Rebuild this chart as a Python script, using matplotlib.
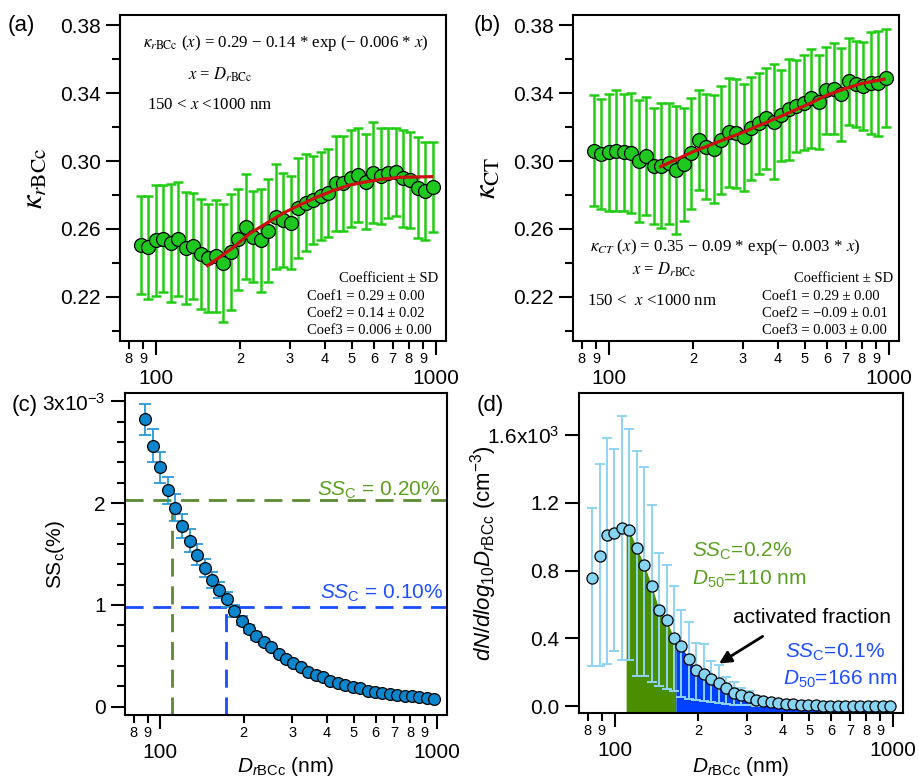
import matplotlib
matplotlib.use('Agg')
import matplotlib.pyplot as plt
from matplotlib.ticker import FixedLocator, FixedFormatter, NullLocator
import numpy as np

plt.rcParams['font.family'] = ['Liberation Sans', 'DejaVu Sans']
plt.rcParams['mathtext.fontset'] = 'custom'
plt.rcParams['mathtext.rm'] = 'Liberation Sans'
plt.rcParams['mathtext.it'] = 'Liberation Sans:italic'
plt.rcParams['mathtext.bf'] = 'Liberation Sans:bold'

# diametros (nm) - centro dos bins
D = [83.0, 88.3, 93.9, 99.8, 106.2, 112.9, 120.1, 127.7, 135.8, 144.5, 153.6,
     163.4, 173.8, 184.8, 196.6, 209.1, 222.3, 236.5, 251.5, 267.5, 284.5,
     302.5, 321.7, 342.2, 363.9, 387.1, 411.6, 437.8, 465.6, 495.2, 526.6,
     560.1, 595.7, 633.5, 673.8, 716.6, 762.1, 810.5, 862.0, 916.7, 974.9]
Dk = D[1:]

# (a) kappa rBCc
kappa_rbcc = [0.2506, 0.2492, 0.2532, 0.2543, 0.2516, 0.2539, 0.2486, 0.2500,
              0.2453, 0.2428, 0.2441, 0.2398, 0.2463, 0.2539, 0.2614, 0.2555,
              0.2532, 0.2590, 0.2673, 0.2653, 0.2637, 0.2722, 0.2755, 0.2771,
              0.2794, 0.2810, 0.2869, 0.2869, 0.2898, 0.2918, 0.2878, 0.2931,
              0.2912, 0.2927, 0.2937, 0.2898, 0.2888, 0.2843, 0.2824, 0.2845]
kappa_rbcc_sd = [0.0287, 0.0304, 0.0326, 0.0314, 0.0348, 0.0335, 0.0331, 0.0314,
                 0.0323, 0.0319, 0.0330, 0.0348, 0.0340, 0.0296, 0.0311, 0.0267,
                 0.0306, 0.0304, 0.0307, 0.0279, 0.0274, 0.0294, 0.0285, 0.0258,
                 0.0260, 0.0260, 0.0279, 0.0279, 0.0287, 0.0278, 0.0281, 0.0297,
                 0.0284, 0.0265, 0.0260, 0.0286, 0.0281, 0.0299, 0.0289, 0.0265]
fit_rbcc_x = [153, 188, 216, 248, 284, 326, 374, 429, 492, 565, 648, 743, 964]
fit_rbcc_y = [0.2384, 0.2488, 0.2572, 0.2633, 0.2692, 0.2741, 0.2786, 0.2826,
              0.2859, 0.2878, 0.2894, 0.2904, 0.2908]

# (b) kappa CT
kappa_ct = [0.3061, 0.3041, 0.3051, 0.3061, 0.3051, 0.3045, 0.3002, 0.3029,
            0.2971, 0.2973, 0.2986, 0.2947, 0.2982, 0.3045, 0.3123, 0.3084,
            0.3071, 0.3123, 0.3169, 0.3163, 0.3139, 0.3192, 0.3221, 0.3251,
            0.3231, 0.3270, 0.3304, 0.3323, 0.3343, 0.3369, 0.3349, 0.3417,
            0.3427, 0.3394, 0.3470, 0.3453, 0.3441, 0.3461, 0.3457, 0.3490]
kappa_ct_sd = [0.0328, 0.0325, 0.0343, 0.0358, 0.0345, 0.0353, 0.0360, 0.0349,
               0.0340, 0.0366, 0.0355, 0.0377, 0.0333, 0.0325, 0.0294, 0.0310,
               0.0319, 0.0316, 0.0320, 0.0319, 0.0314, 0.0302, 0.0299, 0.0297,
               0.0338, 0.0268, 0.0296, 0.0270, 0.0279, 0.0291, 0.0276, 0.0255,
               0.0268, 0.0274, 0.0255, 0.0255, 0.0260, 0.0299, 0.0309, 0.0287]
fit_ct_x = [153, 200, 250, 300, 400, 500, 600, 700, 800, 960]
fit_ct_y = [0.2967, 0.3055, 0.3118, 0.3168, 0.3255, 0.3325, 0.3388, 0.3427,
            0.3457, 0.3482]

# (c) SSc (x10^-3)
ssc = [2.826, 2.564, 2.354, 2.125, 1.957, 1.777, 1.633, 1.492, 1.361, 1.246,
       1.148, 1.056, 0.944, 0.846, 0.761, 0.695, 0.639, 0.584, 0.518, 0.466,
       0.426, 0.387, 0.344, 0.311, 0.289, 0.256, 0.236, 0.213, 0.197, 0.180,
       0.157, 0.148, 0.138, 0.125, 0.115, 0.105, 0.105, 0.092, 0.082, 0.072]
ssc_sd = [0.152, 0.164, 0.152, 0.131, 0.131, 0.118, 0.115, 0.103, 0.087, 0.080,
          0.077, 0.072, 0.059, 0.046, 0.040, 0.035, 0.030, 0.027, 0.024, 0.021,
          0.019, 0.017, 0.015, 0.013, 0.012, 0.011, 0.010, 0.009, 0.008, 0.008,
          0.007, 0.007, 0.006, 0.006, 0.005, 0.005, 0.005, 0.004, 0.004, 0.004]
ss_levels = [2.03, 0.975]       # SSc = 0.20 %, 0.10 %
ss_d50_c = [110, 172]

# (d) dN/dlogD (x10^3 cm-3)
dndlogd = [0.756, 0.883, 1.007, 1.021, 1.050, 1.037, 0.932, 0.834, 0.711, 0.569,
           0.506, 0.402, 0.353, 0.279, 0.212, 0.190, 0.161, 0.137, 0.108, 0.079,
           0.069, 0.055, 0.039, 0.029, 0.024, 0.020, 0.016, 0.012, 0.010, 0.008,
           0.006, 0.004, 0.003, 0.003, 0.002, 0.002, 0.002, 0.001, 0.001, 0.001,
           0.001]
dn_err_hi = [0.412, 0.547, 0.575, 0.497, 0.662, 0.596, 0.575, 0.578, 0.477, 0.335,
             0.324, 0.310, 0.215, 0.217, 0.160, 0.179, 0.105, 0.107, 0.065, 0.062,
             0.039, 0.033, 0.024, 0.020, 0.016, 0.013, 0.010, 0.008, 0.006, 0.005,
             0.004, 0.003, 0.002, 0.002, 0.002, 0.001, 0.001, 0.001, 0.001, 0.001,
             0.001]
dn_err_lo = [0.520, 0.643, 0.756, 0.697, 0.775, 0.764, 0.751, 0.653, 0.569, 0.450,
             0.402, 0.314, 0.298, 0.236, 0.177, 0.161, 0.137, 0.117, 0.092, 0.069,
             0.061, 0.049, 0.035, 0.025, 0.020, 0.016, 0.013, 0.010, 0.008, 0.006,
             0.005, 0.003, 0.002, 0.002, 0.002, 0.001, 0.001, 0.001, 0.001, 0.001,
             0.001]
d50 = [110, 166]

W, H = 919, 781
fig = plt.figure(figsize=(W / 100, H / 100), dpi=100)


def box(l, t, r, b):
    return [l / W, 1 - b / H, (r - l) / W, (b - t) / H]


ax_a = fig.add_axes(box(120, 15, 446, 341))
ax_b = fig.add_axes(box(573, 15, 899, 341))
ax_c = fig.add_axes(box(125, 393, 447, 715))
ax_d = fig.add_axes(box(579, 393, 903, 713))

minor_x = [80, 90, 200, 300, 400, 500, 600, 700, 800, 900]
minor_lab = ['8', '9', '2', '3', '4', '5', '6', '7', '8', '9']


def estilo(ax):
    ax.set_xscale('log')
    ax.set_xlim(74.5, 1085)
    ax.xaxis.set_major_locator(FixedLocator([100, 1000]))
    ax.xaxis.set_major_formatter(FixedFormatter(['100', '1000']))
    ax.xaxis.set_minor_locator(FixedLocator(minor_x))
    ax.xaxis.set_minor_formatter(FixedFormatter(minor_lab))
    for s in ax.spines.values():
        s.set_linewidth(1.5)
    ax.tick_params(axis='both', which='major', direction='out', length=10,
                   width=1.5, labelsize=15)
    ax.tick_params(axis='y', which='major', pad=4)
    ax.tick_params(axis='x', which='major', pad=10)
    ax.tick_params(axis='both', which='minor', direction='out', length=6,
                   width=1.5)
    ax.tick_params(axis='x', which='minor', labelsize=10.5, pad=2)


serif = dict(fontfamily='Liberation Serif', math_fontfamily='stix')

# ---- (a)
ax = ax_a
estilo(ax)
ax.errorbar(Dk, kappa_rbcc, yerr=kappa_rbcc_sd, fmt='none', ecolor='#22cc14',
            elinewidth=1.8, capsize=3.8, capthick=1.8, zorder=1)
ax.plot(Dk, kappa_rbcc, 'o', ms=10, mfc='#1ec81e', mec='black', mew=0.9, zorder=2)
ax.plot(fit_rbcc_x, fit_rbcc_y, color='#cc1010', lw=2.3, zorder=3)
ax.set_ylim(0.194, 0.386)
ax.yaxis.set_major_locator(FixedLocator([0.22, 0.26, 0.30, 0.34, 0.38]))
ax.yaxis.set_minor_locator(FixedLocator([0.20, 0.24, 0.28, 0.32, 0.36]))
ax.set_yticklabels(['0.22', '0.26', '0.30', '0.34', '0.38'])
ax.set_ylabel(r'$\kappa_{r\mathrm{BCc}}$', fontsize=22, math_fontfamily='stix')
ax.yaxis.set_label_coords(-0.215, 0.5)
ax.text(0.07, 0.914, r'$\kappa_{r\mathrm{BCc}}$ ($x$) = 0.29 − 0.14 * exp (− 0.006 * $x$)',
        transform=ax.transAxes, fontsize=12.2, va='center', **serif)
ax.text(0.209, 0.816, r'$x$ = $D_{r\mathrm{BCc}}$', transform=ax.transAxes,
        fontsize=12, va='center', **serif)
ax.text(0.083, 0.724, r'150 < $x$ <1000 nm', transform=ax.transAxes,
        fontsize=12.2, va='center', **serif)
ax.text(0.975, 0.193, 'Coefficient ± SD', transform=ax.transAxes, ha='right',
        fontsize=10.5, va='center', **serif)
for i, s in enumerate(['Coef1 = 0.29 ± 0.00', 'Coef2 = 0.14 ± 0.02',
                       'Coef3 = 0.006 ± 0.00']):
    ax.text(0.574, 0.138 - i * 0.053, s, transform=ax.transAxes, fontsize=10.5,
            va='center', **serif)

# ---- (b)
ax = ax_b
estilo(ax)
ax.errorbar(Dk, kappa_ct, yerr=kappa_ct_sd, fmt='none', ecolor='#22cc14',
            elinewidth=1.8, capsize=3.8, capthick=1.8, zorder=1)
ax.plot(Dk, kappa_ct, 'o', ms=10, mfc='#1ec81e', mec='black', mew=0.9, zorder=2)
ax.plot(fit_ct_x, fit_ct_y, color='#cc1010', lw=2.3, zorder=3)
ax.set_ylim(0.194, 0.386)
ax.yaxis.set_major_locator(FixedLocator([0.22, 0.26, 0.30, 0.34, 0.38]))
ax.yaxis.set_minor_locator(FixedLocator([0.20, 0.24, 0.28, 0.32, 0.36]))
ax.set_yticklabels(['0.22', '0.26', '0.30', '0.34', '0.38'])
ax.set_ylabel(r'$\kappa_{\mathrm{CT}}$', fontsize=22, math_fontfamily='stix')
ax.yaxis.set_label_coords(-0.215, 0.5)
ax.text(0.052, 0.288, r'$\kappa_{CT}$ ($x$) = 0.35 − 0.09 * exp(− 0.003 * $x$)',
        transform=ax.transAxes, fontsize=12.2, va='center', **serif)
ax.text(0.181, 0.218, r'$x$ = $D_{r\mathrm{BCc}}$', transform=ax.transAxes,
        fontsize=12, va='center', **serif)
ax.text(0.043, 0.123, r'150 <  $x$ <1000 nm', transform=ax.transAxes,
        fontsize=12.2, va='center', **serif)
ax.text(0.982, 0.193, 'Coefficient ± SD', transform=ax.transAxes, ha='right',
        fontsize=10.5, va='center', **serif)
for i, s in enumerate(['Coef1 = 0.29 ± 0.00', 'Coef2 = −0.09 ± 0.01',
                       'Coef3 = 0.003 ± 0.00']):
    ax.text(0.580, 0.138 - i * 0.053, s, transform=ax.transAxes, fontsize=10.5,
            va='center', **serif)

# ---- (c)
ax = ax_c
estilo(ax)
ax.set_ylim(-0.082, 3.083)
cores_ss = ['#5b8a32', '#1a4cff']
for nivel, dx, cor in zip(ss_levels, ss_d50_c, cores_ss):
    ax.axhline(nivel, color=cor, lw=2, dashes=(6.5, 3.5), zorder=1)
    ax.plot([dx, dx], [-0.082, nivel], color=cor, lw=2, dashes=(6.5, 3.5), zorder=1)
ax.errorbar(Dk, ssc, yerr=ssc_sd, fmt='none', ecolor='#2a9ad8', elinewidth=1.3,
            capsize=4.3, capthick=1.3, zorder=2)
ax.plot(Dk, ssc, 'o', ms=8.5, mfc='#0b85cc', mec='black', mew=0.9, zorder=3)
ax.yaxis.set_major_locator(FixedLocator([0, 1, 2, 3]))
ax.yaxis.set_major_formatter(FixedFormatter(['0', '1', '2', r'3x10$^{\mathregular{-3}}$']))
ax.yaxis.set_minor_locator(FixedLocator([v / 5 for v in range(1, 15) if v % 5]))
ax.set_ylabel(r'SS$_{\mathrm{c}}$(%)', fontsize=15)
ax.yaxis.set_label_coords(-0.18, 0.5)
ax.set_xlabel(r'$D_{r\mathrm{BCc}}$ (nm)', fontsize=15)
ax.xaxis.set_label_coords(0.5, -0.125)
ax.text(0.978, 0.680, r'$SS_{\mathrm{C}}$ = 0.20%', transform=ax.transAxes,
        ha='right', color='#5aa01e', fontsize=15)
ax.text(0.988, 0.362, r'$SS_{\mathrm{C}}$ = 0.10%', transform=ax.transAxes,
        ha='right', color='#1f4fff', fontsize=15)

# ---- (d)
ax = ax_d
estilo(ax)
y0 = -0.039
ax.set_ylim(y0, 1.846)
logD = np.log10(D)
Darr = np.array(D)
for lo, hi, cor in [(d50[0], d50[1], '#4a8f00'), (d50[1], D[-1], '#0040ff')]:
    xs = np.concatenate([[lo], Darr[(Darr > lo) & (Darr < hi)], [hi]])
    ys = np.interp(np.log10(xs), logD, dndlogd)
    ax.fill_between(xs, y0, ys, color=cor, lw=0, zorder=1)
ax.errorbar(D, dndlogd, yerr=[dn_err_lo, dn_err_hi], fmt='none', ecolor='#8fd3f5',
            elinewidth=1.4, capsize=3.8, capthick=1.4, zorder=2)
ax.plot(D, dndlogd, 'o', ms=8, mfc='#87d3f2', mec='black', mew=0.9, zorder=3)
ax.yaxis.set_major_locator(FixedLocator([0, 0.4, 0.8, 1.2, 1.6]))
ax.yaxis.set_major_formatter(FixedFormatter(['0.0', '0.4', '0.8', '1.2',
                                             r'1.6x10$^{\mathregular{3}}$']))
ax.yaxis.set_minor_locator(NullLocator())
ax.set_ylabel(r'$dN/dlog_{10}D_{r\mathrm{BCc}}$ (cm$^{\mathregular{-3}}$)', fontsize=16)
ax.yaxis.set_label_coords(-0.247, 0.5)
ax.set_xlabel(r'$D_{r\mathrm{BCc}}$ (nm)', fontsize=15)
ax.xaxis.set_label_coords(0.5, -0.131)
ax.text(0.349, 0.488, r'$SS_{\mathrm{C}}$=0.2%', transform=ax.transAxes,
        color='#5aa01e', fontsize=15)
ax.text(0.349, 0.402, r'$D_{\mathrm{50}}$=110 nm', transform=ax.transAxes,
        color='#5aa01e', fontsize=15)
ax.text(0.475, 0.282, 'activated fraction', transform=ax.transAxes,
        color='black', fontsize=15)
ax.text(0.636, 0.173, r'$SS_{\mathrm{C}}$=0.1%', transform=ax.transAxes,
        color='#1f4fff', fontsize=15)
ax.text(0.630, 0.0875, r'$D_{\mathrm{50}}$=166 nm', transform=ax.transAxes,
        color='#1f4fff', fontsize=15)
ax.annotate('', xy=(0.425, 0.15), xytext=(0.574, 0.244), xycoords='axes fraction',
            arrowprops=dict(arrowstyle='-|>', color='black', lw=2,
                            mutation_scale=18))

# rotulos dos paineis
for txt, x, y in [('(a)', 8, 25), ('(b)', 474, 25), ('(c)', 12, 405),
                  ('(d)', 477, 405)]:
    fig.text(x / W, 1 - y / H, txt, fontsize=16, va='center', ha='left')

plt.savefig('out.png', dpi=100)
